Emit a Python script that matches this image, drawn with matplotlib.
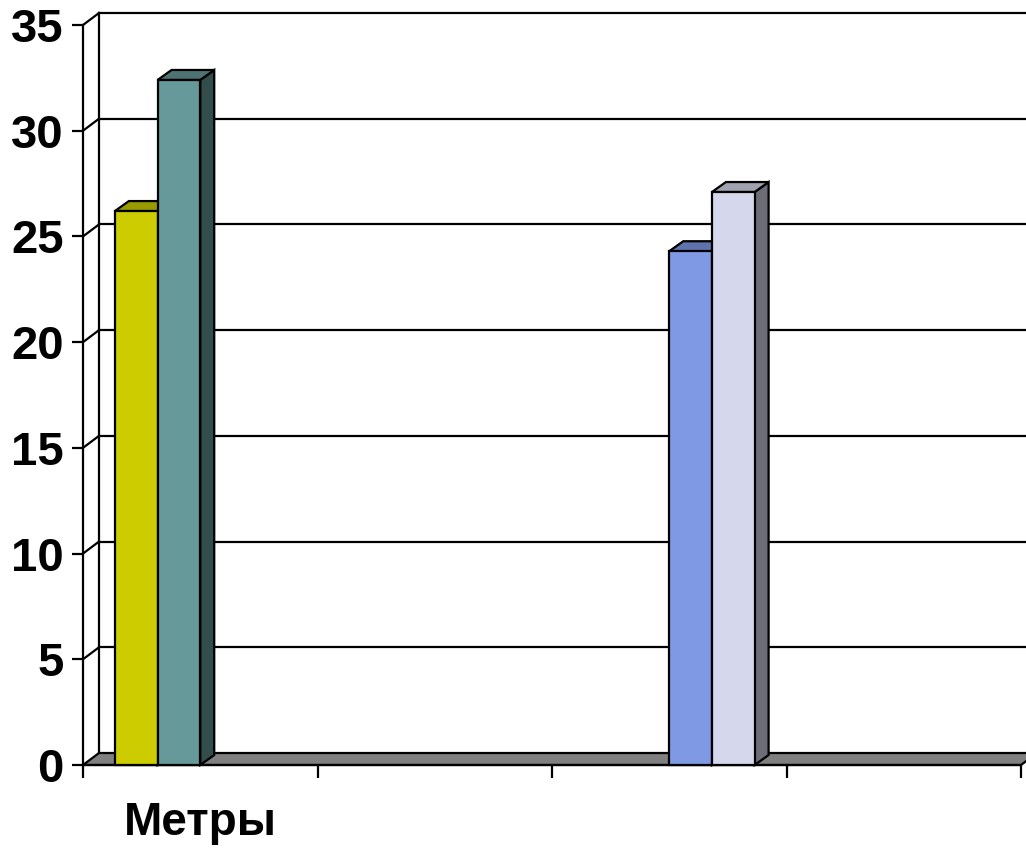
#!/usr/bin/env python3
"""
plot.py
Pseudo-3D clustered column chart (Excel-style) drawn with plain matplotlib.
"""

import numpy as np
import matplotlib
matplotlib.use("Agg")
import matplotlib.pyplot as plt
from matplotlib.patches import Polygon

# ── data
categories = ["Метры", "", "", ""]
series_1 = [26.2, np.nan, np.nan, np.nan]
series_2 = [32.4, np.nan, np.nan, np.nan]
series_3 = [np.nan, np.nan, 24.3, np.nan]
series_4 = [np.nan, np.nan, 27.1, np.nan]
y_ticks = [0, 5, 10, 15, 20, 25, 30, 35]

# front / top / side colours of each series
colors = [
    ("#cccc00", "#999900", "#666600"),
    ("#669999", "#4d7373", "#334d4d"),
    ("#7f99e5", "#5f73ac", "#3f4c72"),
    ("#d5d7ec", "#a0a1b1", "#6c6d77"),
]
FLOOR = "#808080"

plt.rcParams["font.family"] = ["Liberation Sans", "DejaVu Sans"]
plt.rcParams["font.weight"] = "bold"

fig = plt.figure(figsize=(10.26, 8.48), dpi=100)
ax = fig.add_axes([83 / 1026, 1 - 765 / 848, 938 / 1026, 740 / 848])
n_cat = len(categories)
ax.set_xlim(0, n_cat)
ax.set_ylim(0, 35)

# pixel → data conversion for the depth offsets
fig.canvas.draw()
p0 = ax.transData.transform((0, 0))
p1 = ax.transData.transform((1, 1))
px_x, px_y = p1 - p0
wall_dx, wall_dy = 16 / px_x, 12 / px_y
bar_dx, bar_dy = 14 / px_x, 10 / px_y

LW = 1.6

# ── back wall gridlines + left side wall
for y in y_ticks[1:]:
    ax.plot([wall_dx, n_cat + wall_dx + 1], [y + wall_dy, y + wall_dy],
            color="black", lw=LW, clip_on=False, zorder=1)
    ax.plot([0, wall_dx], [y, y + wall_dy], color="black", lw=LW,
            clip_on=False, zorder=1)
ax.plot([wall_dx, wall_dx], [wall_dy, 35 + wall_dy], color="black", lw=LW,
        clip_on=False, zorder=1)

# ── floor
floor = Polygon([(0, 0), (n_cat, 0), (n_cat + wall_dx, wall_dy), (wall_dx, wall_dy)],
                closed=True, facecolor=FLOOR, edgecolor="black", lw=LW,
                clip_on=False, zorder=2)
ax.add_patch(floor)

# ── bars
all_series = [series_1, series_2, series_3, series_4]
slot_w = 0.182
start = 0.5 - slot_w * len(all_series) / 2
for ci in range(n_cat):
    for si, vals in enumerate(all_series):
        v = vals[ci]
        if np.isnan(v):
            continue
        x0 = ci + start + si * slot_w
        x1 = x0 + slot_w
        front, top, side = colors[si]
        z = 3 + ci * 10 + si
        ax.add_patch(Polygon([(x1, 0), (x1 + bar_dx, bar_dy), (x1 + bar_dx, v + bar_dy), (x1, v)],
                             facecolor=side, edgecolor="black", lw=LW, zorder=z, clip_on=False))
        ax.add_patch(Polygon([(x0, v), (x1, v), (x1 + bar_dx, v + bar_dy), (x0 + bar_dx, v + bar_dy)],
                             facecolor=top, edgecolor="black", lw=LW, zorder=z, clip_on=False))
        ax.add_patch(Polygon([(x0, 0), (x1, 0), (x1, v), (x0, v)],
                             facecolor=front, edgecolor="black", lw=LW, zorder=z, clip_on=False))

# ── axes
for s in ["top", "right"]:
    ax.spines[s].set_visible(False)
ax.spines["left"].set_linewidth(LW)
ax.spines["bottom"].set_linewidth(LW)
ax.spines["bottom"].set_zorder(2.5)
ax.set_facecolor("none")

ax.set_yticks(y_ticks)
ax.tick_params(axis="y", length=8, width=LW, labelsize=34, pad=6)

ax.set_xticks(np.arange(n_cat + 1))
ax.set_xticklabels([])
ax.set_xticks(np.arange(n_cat) + 0.5, minor=True)
ax.set_xticklabels(categories, minor=True, fontsize=33, fontweight="bold")
ax.tick_params(axis="x", which="major", length=9, width=LW)
ax.tick_params(axis="x", which="minor", length=0, pad=26)

fig.savefig("out.png", dpi=100)
plt.close(fig)
